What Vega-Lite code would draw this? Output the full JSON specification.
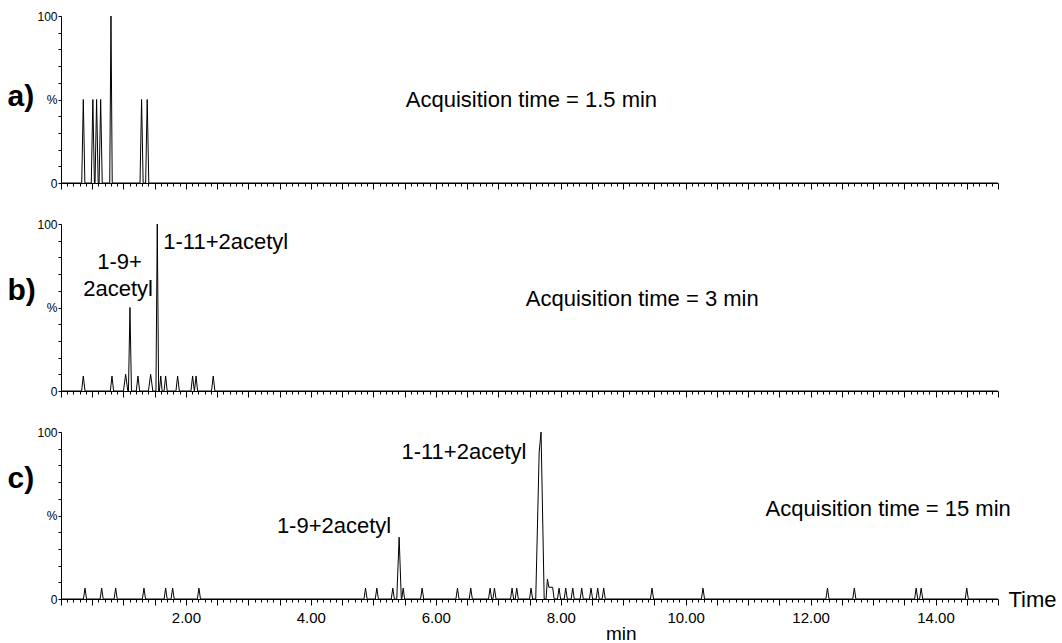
{
  "$schema": "https://vega.github.io/schema/vega-lite/v6.json",
  "background": "white",
  "padding": {"left": 7, "top": 10, "right": 5, "bottom": 5},
  "spacing": 41,
  "bounds": "flush",
  "config": {
    "view": {"stroke": null},
    "font": "Liberation Sans",
    "axis": {"domainColor": "black", "tickColor": "black", "labelColor": "black", "titleColor": "black", "grid": false, "domainWidth": 1, "tickWidth": 1, "labelFont": "Liberation Sans", "titleFont": "Liberation Sans"},
    "line": {"color": "black", "strokeWidth": 1},
    "text": {"font": "Liberation Sans", "color": "black"}
  },
  "datasets": {
    "trace": [
      {"p":"a","t":0,"i":0},{"p":"a","t":0.332,"i":0},{"p":"a","t":0.357,"i":50},{"p":"a","t":0.382,"i":0},
      {"p":"a","t":0.485,"i":0},{"p":"a","t":0.51,"i":50},{"p":"a","t":0.535,"i":0},
      {"p":"a","t":0.545,"i":0},{"p":"a","t":0.57,"i":50},{"p":"a","t":0.595,"i":0},
      {"p":"a","t":0.61,"i":0},{"p":"a","t":0.635,"i":50},{"p":"a","t":0.66,"i":0},
      {"p":"a","t":0.78,"i":0},{"p":"a","t":0.8,"i":100},{"p":"a","t":0.82,"i":0},
      {"p":"a","t":1.265,"i":0},{"p":"a","t":1.29,"i":50},{"p":"a","t":1.315,"i":0},
      {"p":"a","t":1.355,"i":0},{"p":"a","t":1.38,"i":50},{"p":"a","t":1.405,"i":0},
      {"p":"a","t":15,"i":0},

      {"p":"b","t":0,"i":0},{"p":"b","t":0.33,"i":0},{"p":"b","t":0.357,"i":9},{"p":"b","t":0.384,"i":0},
      {"p":"b","t":0.79,"i":0},{"p":"b","t":0.816,"i":9},{"p":"b","t":0.842,"i":0},
      {"p":"b","t":1.0,"i":0},{"p":"b","t":1.035,"i":10},{"p":"b","t":1.07,"i":0},
      {"p":"b","t":1.08,"i":0},{"p":"b","t":1.104,"i":50},{"p":"b","t":1.128,"i":0},
      {"p":"b","t":1.205,"i":0},{"p":"b","t":1.232,"i":9},{"p":"b","t":1.259,"i":0},
      {"p":"b","t":1.4,"i":0},{"p":"b","t":1.435,"i":10},{"p":"b","t":1.47,"i":0},
      {"p":"b","t":1.52,"i":0},{"p":"b","t":1.541,"i":100},{"p":"b","t":1.563,"i":0},
      {"p":"b","t":1.575,"i":0},{"p":"b","t":1.597,"i":9},{"p":"b","t":1.619,"i":0},
      {"p":"b","t":1.65,"i":0},{"p":"b","t":1.675,"i":9},{"p":"b","t":1.7,"i":0},
      {"p":"b","t":1.84,"i":0},{"p":"b","t":1.867,"i":9},{"p":"b","t":1.894,"i":0},
      {"p":"b","t":2.08,"i":0},{"p":"b","t":2.107,"i":9},{"p":"b","t":2.134,"i":0},
      {"p":"b","t":2.137,"i":0},{"p":"b","t":2.162,"i":9},{"p":"b","t":2.187,"i":0},
      {"p":"b","t":2.41,"i":0},{"p":"b","t":2.437,"i":9},{"p":"b","t":2.464,"i":0},
      {"p":"b","t":15,"i":0},

      {"p":"c","t":0,"i":0},
      {"p":"c","t":0.359,"i":0},{"p":"c","t":0.384,"i":6.5},{"p":"c","t":0.409,"i":0},
      {"p":"c","t":0.626,"i":0},{"p":"c","t":0.651,"i":6.5},{"p":"c","t":0.676,"i":0},
      {"p":"c","t":0.85,"i":0},{"p":"c","t":0.875,"i":6.5},{"p":"c","t":0.9,"i":0},
      {"p":"c","t":1.303,"i":0},{"p":"c","t":1.328,"i":6.5},{"p":"c","t":1.353,"i":0},
      {"p":"c","t":1.65,"i":0},{"p":"c","t":1.675,"i":6.5},{"p":"c","t":1.7,"i":0},
      {"p":"c","t":1.762,"i":0},{"p":"c","t":1.787,"i":6.5},{"p":"c","t":1.812,"i":0},
      {"p":"c","t":2.183,"i":0},{"p":"c","t":2.208,"i":6.5},{"p":"c","t":2.233,"i":0},
      {"p":"c","t":4.85,"i":0},{"p":"c","t":4.875,"i":6.5},{"p":"c","t":4.9,"i":0},
      {"p":"c","t":5.031,"i":0},{"p":"c","t":5.056,"i":6.5},{"p":"c","t":5.081,"i":0},
      {"p":"c","t":5.287,"i":0},{"p":"c","t":5.312,"i":6.5},{"p":"c","t":5.337,"i":0},
      {"p":"c","t":5.375,"i":0},{"p":"c","t":5.413,"i":37},{"p":"c","t":5.448,"i":0},
      {"p":"c","t":5.455,"i":0},{"p":"c","t":5.478,"i":6.5},{"p":"c","t":5.5,"i":0},
      {"p":"c","t":5.756,"i":0},{"p":"c","t":5.781,"i":6.5},{"p":"c","t":5.806,"i":0},
      {"p":"c","t":6.322,"i":0},{"p":"c","t":6.347,"i":6.5},{"p":"c","t":6.372,"i":0},
      {"p":"c","t":6.535,"i":0},{"p":"c","t":6.56,"i":6.5},{"p":"c","t":6.585,"i":0},
      {"p":"c","t":6.844,"i":0},{"p":"c","t":6.869,"i":6.5},{"p":"c","t":6.894,"i":0},
      {"p":"c","t":6.914,"i":0},{"p":"c","t":6.939,"i":6.5},{"p":"c","t":6.964,"i":0},
      {"p":"c","t":7.196,"i":0},{"p":"c","t":7.221,"i":6.5},{"p":"c","t":7.246,"i":0},
      {"p":"c","t":7.271,"i":0},{"p":"c","t":7.296,"i":6.5},{"p":"c","t":7.321,"i":0},
      {"p":"c","t":7.5,"i":0},{"p":"c","t":7.525,"i":6.5},{"p":"c","t":7.55,"i":0},
      {"p":"c","t":7.6,"i":0},{"p":"c","t":7.655,"i":88},{"p":"c","t":7.685,"i":100},{"p":"c","t":7.735,"i":0},
      {"p":"c","t":7.765,"i":0},{"p":"c","t":7.787,"i":12},{"p":"c","t":7.81,"i":7},{"p":"c","t":7.87,"i":7},{"p":"c","t":7.895,"i":0},
      {"p":"c","t":7.948,"i":0},{"p":"c","t":7.973,"i":6.5},{"p":"c","t":7.998,"i":0},
      {"p":"c","t":8.055,"i":0},{"p":"c","t":8.08,"i":6.5},{"p":"c","t":8.105,"i":0},
      {"p":"c","t":8.167,"i":0},{"p":"c","t":8.192,"i":6.5},{"p":"c","t":8.217,"i":0},
      {"p":"c","t":8.311,"i":0},{"p":"c","t":8.336,"i":6.5},{"p":"c","t":8.361,"i":0},
      {"p":"c","t":8.46,"i":0},{"p":"c","t":8.485,"i":6.5},{"p":"c","t":8.51,"i":0},
      {"p":"c","t":8.567,"i":0},{"p":"c","t":8.592,"i":6.5},{"p":"c","t":8.617,"i":0},
      {"p":"c","t":8.663,"i":0},{"p":"c","t":8.688,"i":6.5},{"p":"c","t":8.713,"i":0},
      {"p":"c","t":9.436,"i":0},{"p":"c","t":9.461,"i":6.5},{"p":"c","t":9.486,"i":0},
      {"p":"c","t":10.252,"i":0},{"p":"c","t":10.277,"i":6.5},{"p":"c","t":10.302,"i":0},
      {"p":"c","t":12.245,"i":0},{"p":"c","t":12.27,"i":6.5},{"p":"c","t":12.295,"i":0},
      {"p":"c","t":12.675,"i":0},{"p":"c","t":12.7,"i":6.5},{"p":"c","t":12.725,"i":0},
      {"p":"c","t":13.665,"i":0},{"p":"c","t":13.69,"i":6.5},{"p":"c","t":13.715,"i":0},
      {"p":"c","t":13.745,"i":0},{"p":"c","t":13.77,"i":6.5},{"p":"c","t":13.795,"i":0},
      {"p":"c","t":14.475,"i":0},{"p":"c","t":14.5,"i":6.5},{"p":"c","t":14.525,"i":0},
      {"p":"c","t":15,"i":0}
    ],
    "labels": [
      {"p":"a","t":5.52,"i":50,"text":"Acquisition time = 1.5 min"},
      {"p":"b","t":7.44,"i":55,"text":"Acquisition time = 3 min"},
      {"p":"b","t":0.581,"i":77,"text":"1-9+"},
      {"p":"b","t":0.357,"i":61,"text":"2acetyl"},
      {"p":"b","t":1.637,"i":89,"text":"1-11+2acetyl"},
      {"p":"c","t":11.28,"i":54,"text":"Acquisition time = 15 min"},
      {"p":"c","t":3.456,"i":44,"text":"1-9+2acetyl"},
      {"p":"c","t":5.45,"i":88,"text":"1-11+2acetyl"},
      {"p":"unit","t":8.97,"i":-21,"text":"min"}
    ]
  },
  "vconcat": [
    {
      "width": 937, "height": 167,
      "encoding": {
        "x": {"field": "t", "type": "quantitative", "scale": {"domain": [0, 15], "nice": false, "zero": false},
          "axis": {"title": null, "labels": false, "tickCount": 150, "tickSize": {"condition": {"test": "abs(datum.value*2 - round(datum.value*2)) < 0.001", "value": 6}, "value": 3}}},
        "y": {"field": "i", "type": "quantitative", "scale": {"domain": [0, 100], "nice": false},
          "axis": {"title": "a)", "titleAngle": 0, "titleAlign": "left", "titleBaseline": "alphabetic", "titleX": -54, "titleY": 89, "titleFontSize": 30, "titleFontWeight": "bold",
            "values": [0,10,20,30,40,50,60,70,80,90,100], "labelExpr": "datum.value == 100 ? '100' : datum.value == 50 ? '%' : datum.value == 0 ? '0' : ''",
            "tickSize": 3, "labelPadding": 1, "labelFontSize": 12, "labelOverlap": false}}
      },
      "layer": [
        {
          "data": {"name": "trace"},
          "transform": [{"filter": "datum.p == 'a'"}],
          "mark": {"type": "line", "color": "black", "strokeWidth": 1}
        },
        {
          "data": {"name": "labels"},
          "transform": [{"filter": "datum.p == 'a'"}],
          "mark": {"type": "text", "align": "left", "baseline": "middle", "fontSize": 22},
          "encoding": {"text": {"field": "text"}}
        }
      ]
    },
    {
      "width": 937, "height": 167,
      "encoding": {
        "x": {"field": "t", "type": "quantitative", "scale": {"domain": [0, 15], "nice": false, "zero": false},
          "axis": {"title": null, "labels": false, "tickCount": 150, "tickSize": {"condition": {"test": "abs(datum.value*2 - round(datum.value*2)) < 0.001", "value": 6}, "value": 3}}},
        "y": {"field": "i", "type": "quantitative", "scale": {"domain": [0, 100], "nice": false},
          "axis": {"title": "b)", "titleAngle": 0, "titleAlign": "left", "titleBaseline": "alphabetic", "titleX": -54, "titleY": 75, "titleFontSize": 30, "titleFontWeight": "bold",
            "values": [0,10,20,30,40,50,60,70,80,90,100], "labelExpr": "datum.value == 100 ? '100' : datum.value == 50 ? '%' : datum.value == 0 ? '0' : ''",
            "tickSize": 3, "labelPadding": 1, "labelFontSize": 12, "labelOverlap": false}}
      },
      "layer": [
        {
          "data": {"name": "trace"},
          "transform": [{"filter": "datum.p == 'b'"}],
          "mark": {"type": "line", "color": "black", "strokeWidth": 1}
        },
        {
          "data": {"name": "labels"},
          "transform": [{"filter": "datum.p == 'b'"}],
          "mark": {"type": "text", "align": "left", "baseline": "middle", "fontSize": 22},
          "encoding": {"text": {"field": "text"}}
        }
      ]
    },
    {
      "width": 937, "height": 167,
      "encoding": {
        "x": {"field": "t", "type": "quantitative", "scale": {"domain": [0, 15], "nice": false, "zero": false},
          "axis": {"title": "Time", "titleAngle": 0, "titleAlign": "left", "titleBaseline": "middle", "titleX": 947, "titleY": 0, "titleFontSize": 22, "titleFontWeight": "normal",
            "tickCount": 150, "labelOverlap": false, "labelFlush": false, "labelBound": false, "labelFontSize": 15, "labelPadding": 5,
            "labelExpr": "datum.value > 0.5 && abs(datum.value/2 - round(datum.value/2)) < 0.001 ? format(datum.value, '.2f') : ''",
            "tickSize": {"condition": {"test": "abs(datum.value*2 - round(datum.value*2)) < 0.001", "value": 6}, "value": 3}}},
        "y": {"field": "i", "type": "quantitative", "scale": {"domain": [0, 100], "nice": false},
          "axis": {"title": "c)", "titleAngle": 0, "titleAlign": "left", "titleBaseline": "alphabetic", "titleX": -54, "titleY": 55, "titleFontSize": 30, "titleFontWeight": "bold",
            "values": [0,10,20,30,40,50,60,70,80,90,100], "labelExpr": "datum.value == 100 ? '100' : datum.value == 50 ? '%' : datum.value == 0 ? '0' : ''",
            "tickSize": 3, "labelPadding": 1, "labelFontSize": 12, "labelOverlap": false}}
      },
      "layer": [
        {
          "data": {"name": "trace"},
          "transform": [{"filter": "datum.p == 'c'"}],
          "mark": {"type": "line", "color": "black", "strokeWidth": 1}
        },
        {
          "data": {"name": "labels"},
          "transform": [{"filter": "datum.p == 'c'"}],
          "mark": {"type": "text", "align": "left", "baseline": "middle", "fontSize": 22},
          "encoding": {"text": {"field": "text"}}
        },
        {
          "data": {"name": "labels"},
          "transform": [{"filter": "datum.p == 'unit'"}],
          "mark": {"type": "text", "align": "center", "baseline": "middle", "fontSize": 19},
          "encoding": {"text": {"field": "text"}}
        }
      ]
    }
  ]
}
